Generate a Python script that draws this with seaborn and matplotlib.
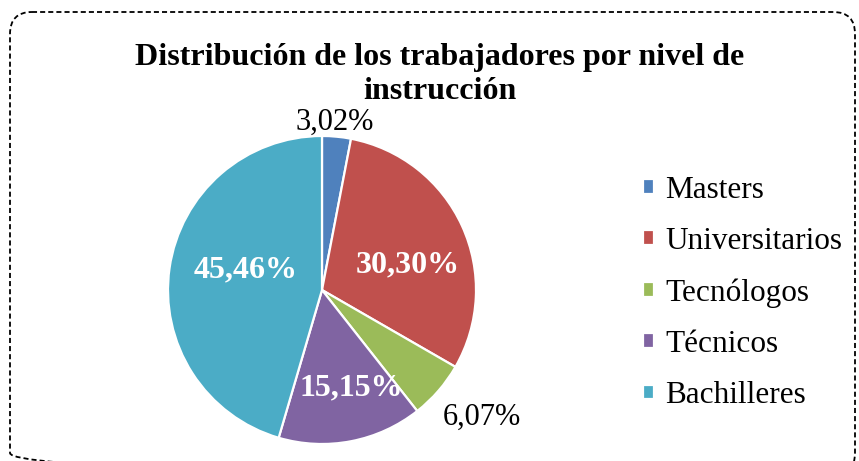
import numpy as np
import matplotlib
matplotlib.use("Agg")
import matplotlib.pyplot as plt
import seaborn as sns
from matplotlib.patches import FancyBboxPatch

# -------------------------
# Data
# -------------------------
categories = ["Masters", "Universitarios", "Tecnólogos", "Técnicos", "Bachilleres"]
shares = [3.02, 30.30, 6.07, 15.15, 45.46]
title = "Distribución de los trabajadores por nivel de\ninstrucción"

# Excel 2007 palette
colors = ["#4F81BD", "#C0504D", "#9BBB59", "#8064A2", "#4BACC6"]

# label placement (Excel "best fit" look): inside / outside, radial distance, angle nudge
label_inside = [False, True, False, True, True]
label_dist = [1.09, 0.58, 1.33, 0.66, 0.51]
label_nudge = [1.0, -8.4, 2.4, 5.6, -6.5]

# -------------------------
# Plot
# -------------------------
sns.set_theme(style="white")
plt.rcParams["font.family"] = ["Liberation Serif", "DejaVu Serif"]
plt.rcParams["text.color"] = "black"

W, H = 859, 461
fig = plt.figure(figsize=(W / 100, H / 100), dpi=100)

# dashed rounded frame
bg = fig.add_axes([0, 0, 1, 1], zorder=-1)
bg.set_xlim(0, W)
bg.set_ylim(H, 0)
bg.axis("off")
bg.add_patch(FancyBboxPatch((10, 12), 845, 463,
                            boxstyle="round,pad=0,rounding_size=22",
                            fill=False, edgecolor="black", linewidth=1.3,
                            linestyle=(0, (2.8, 1.7))))

# pie axes: center (322, 290), radius 154 px
cx, cy, r = 322, 290, 154
ax = fig.add_axes([(cx - r) / W, (H - cy - r) / H, 2 * r / W, 2 * r / H])
wedges, _ = ax.pie(shares, colors=colors, startangle=90, counterclock=False,
                   wedgeprops=dict(edgecolor="white", linewidth=1.6))
ax.set_xlim(-1, 1)
ax.set_ylim(-1, 1)
ax.set_aspect("auto")
ax.axis("off")

for w, v, inside, d, nudge in zip(wedges, shares, label_inside, label_dist, label_nudge):
    ang = np.deg2rad((w.theta1 + w.theta2) / 2 + nudge)
    txt = f"{v:.2f}%".replace(".", ",")
    ax.text(d * np.cos(ang), d * np.sin(ang), txt, ha="center", va="center",
            fontsize=23 if inside else 22, color="white" if inside else "black",
            fontweight="bold" if inside else "normal", clip_on=False)

fig.text(440 / W, 1 - 43 / H, title, ha="center", va="top", fontsize=23,
         fontweight="bold", linespacing=1.24, color="black")

fig.legend(wedges, categories, loc="center left",
           bbox_to_anchor=(643 / W, (H - 293) / H), frameon=False,
           fontsize=22.5, handlelength=0.35, handleheight=0.35,
           handletextpad=0.35, labelspacing=0.71, borderpad=0, borderaxespad=0)

fig.savefig("out.png", dpi=100)
plt.close(fig)
